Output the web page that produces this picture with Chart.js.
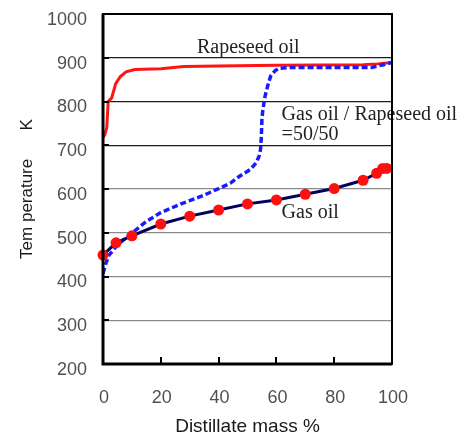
<!DOCTYPE html>
<html>
<head>
<meta charset="utf-8">
<script src="https://cdn.jsdelivr.net/npm/chart.js@4/dist/chart.umd.min.js"></script>
<style>
  html, body { margin: 0; padding: 0; background: #fff; }
  #wrap { width: 468px; height: 436px; }
</style>
</head>
<body>
<div id="wrap"><canvas id="chartDistill"></canvas></div>
<script>
// data
var gasOilX = [0, 4.5, 10, 20, 30, 40, 50, 60, 70, 80, 90, 94.7, 96.8, 98.2];
var gasOilT = [449, 477, 493, 520, 538, 552, 566, 575, 588, 601, 620, 636, 647, 647];

var rapeX = [0, 0.6, 1.3, 1.8, 3, 4.4, 6, 8, 11, 20, 28, 40, 60, 90, 95, 100];
var rapeT = [718, 724, 740, 800, 808, 841, 857, 868, 873, 875, 880, 881, 883, 884, 886, 889];

var blendX = [0, 1, 2, 5, 10, 15, 20, 27, 35, 41, 44, 47, 51, 53, 54, 54.5, 54.8, 55, 55.3, 56, 57, 58, 59.5, 61, 66, 80, 93, 97, 100];
var blendT = [407, 430, 448, 472, 499, 526, 546, 566, 586, 604, 613, 628, 645, 660, 675, 690, 720, 760, 780, 810, 836, 858, 870, 876, 878, 878, 878, 884, 889];

var xTicks = [0, 20, 40, 60, 80, 100];
var yTicks = [200, 300, 400, 500, 600, 700, 800, 900, 1000];

function toPoints(xs, ys) {
  var pts = [];
  for (var i = 0; i < xs.length; i++) pts.push({ x: xs[i], y: ys[i] });
  return pts;
}

// text labels inside the plot, placed in data units
var notes = [
  { text: "Rapeseed oil", x: 32.5, y: 911 },
  { text: "Gas oil / Rapeseed oil", x: 61.8, y: 758 },
  { text: "=50/50", x: 61.8, y: 712 },
  { text: "Gas oil", x: 61.8, y: 534 }
];

var frame = {
  id: 'frame',
  afterDatasetsDraw: function(chart) {
    var ctx = chart.ctx, a = chart.chartArea;
    var xs = chart.scales.x, ys = chart.scales.y;
    ctx.save();
    // notes
    ctx.font = "20px 'Liberation Serif'";
    ctx.fillStyle = "#222";
    ctx.textBaseline = "alphabetic";
    ctx.textAlign = "left";
    notes.forEach(function(n) {
      ctx.fillText(n.text, xs.getPixelForValue(n.x), ys.getPixelForValue(n.y));
    });
    // inner tick marks
    ctx.strokeStyle = "#000";
    ctx.lineWidth = 2;
    ctx.beginPath();
    [20, 40, 60, 80].forEach(function(v) {
      var px = Math.round(xs.getPixelForValue(v));
      ctx.moveTo(px, a.bottom);
      ctx.lineTo(px, a.bottom - 7);
    });
    [300, 400, 500, 600, 700, 800, 900].forEach(function(v) {
      var py = Math.round(ys.getPixelForValue(v));
      ctx.moveTo(a.left, py);
      ctx.lineTo(a.left + 6, py);
    });
    ctx.stroke();
    // frame
    ctx.lineWidth = 2;
    ctx.strokeRect(a.left, a.top, a.right - a.left, a.bottom - a.top);
    ctx.lineWidth = 3;
    ctx.beginPath();
    ctx.moveTo(a.left, a.top);
    ctx.lineTo(a.left, a.bottom);
    ctx.lineTo(a.right, a.bottom);
    ctx.stroke();
    ctx.restore();
  }
};

var chartDistill = new Chart(document.getElementById("chartDistill"), {
  type: 'scatter',
  data: {
    datasets: [{
      label: "Gas oil",
      data: toPoints(gasOilX, gasOilT),
      showLine: true,
      borderColor: "#00005e",
      borderWidth: 3,
      pointRadius: 5.5,
      pointBackgroundColor: "#ff1010",
      pointBorderWidth: 0,
      clip: false
    }, {
      label: "Gas oil / Rapeseed oil =50/50",
      data: toPoints(blendX, blendT),
      showLine: true,
      borderColor: "#1a1aff",
      borderWidth: 3.5,
      borderDash: [6, 3],
      pointRadius: 0
    }, {
      label: "Rapeseed oil",
      data: toPoints(rapeX, rapeT),
      showLine: true,
      borderColor: "#ff1414",
      borderWidth: 3,
      pointRadius: 0
    }]
  },
  plugins: [frame],
  options: {
    responsive: true,
    maintainAspectRatio: false,
    animation: false,
    layout: { padding: { top: 14, right: 76, left: 0, bottom: 0 } },
    plugins: {
      legend: { display: false },
      tooltip: { enabled: false }
    },
    scales: {
      x: {
        type: 'linear',
        min: 0,
        max: 100,
        afterBuildTicks: function(scale) {
          scale.ticks = xTicks.map(function(v) { return { value: v }; });
        },
        afterFit: function(scale) {
          scale.height = 72;
          scale.paddingRight = 0;
          scale.paddingLeft = 0;
        },
        grid: { display: false, drawTicks: false },
        border: { display: false },
        ticks: {
          padding: 23, labelOffset: 1, color: "#505050", font: { family: "'Liberation Sans'", size: 18 },
          callback: function(v) { return String(v); }
        },
        title: {
          display: true,
          text: "Distillate mass %",
          color: "#1a1a1a",
          padding: 0,
          font: { family: "'Liberation Sans'", size: 19, lineHeight: 1 }
        }
      },
      y: {
        type: 'linear',
        min: 200,
        max: 1000,
        afterBuildTicks: function(scale) {
          scale.ticks = yTicks.map(function(v) { return { value: v }; });
        },
        afterFit: function(scale) {
          scale.width = 103;
          scale.paddingTop = 0;
          scale.paddingBottom = 0;
        },
        grid: {
          drawTicks: false,
          lineWidth: 1.2,
          color: function(c) {
            return c.tick && c.tick.value >= 700 ? "#1e1e1e" : "#8a8a8a";
          }
        },
        border: { display: false },
        ticks: {
          padding: 16, labelOffset: 6, color: "#505050", font: { family: "'Liberation Sans'", size: 18 },
          callback: function(v) { return String(v); }
        },
        title: {
          display: true,
          text: "Tem perature      K",
          color: "#1a1a1a",
          padding: { top: 17, bottom: 0 },
          font: { family: "'Liberation Sans'", size: 17 }
        }
      }
    }
  }
});
</script>
</body>
</html>
